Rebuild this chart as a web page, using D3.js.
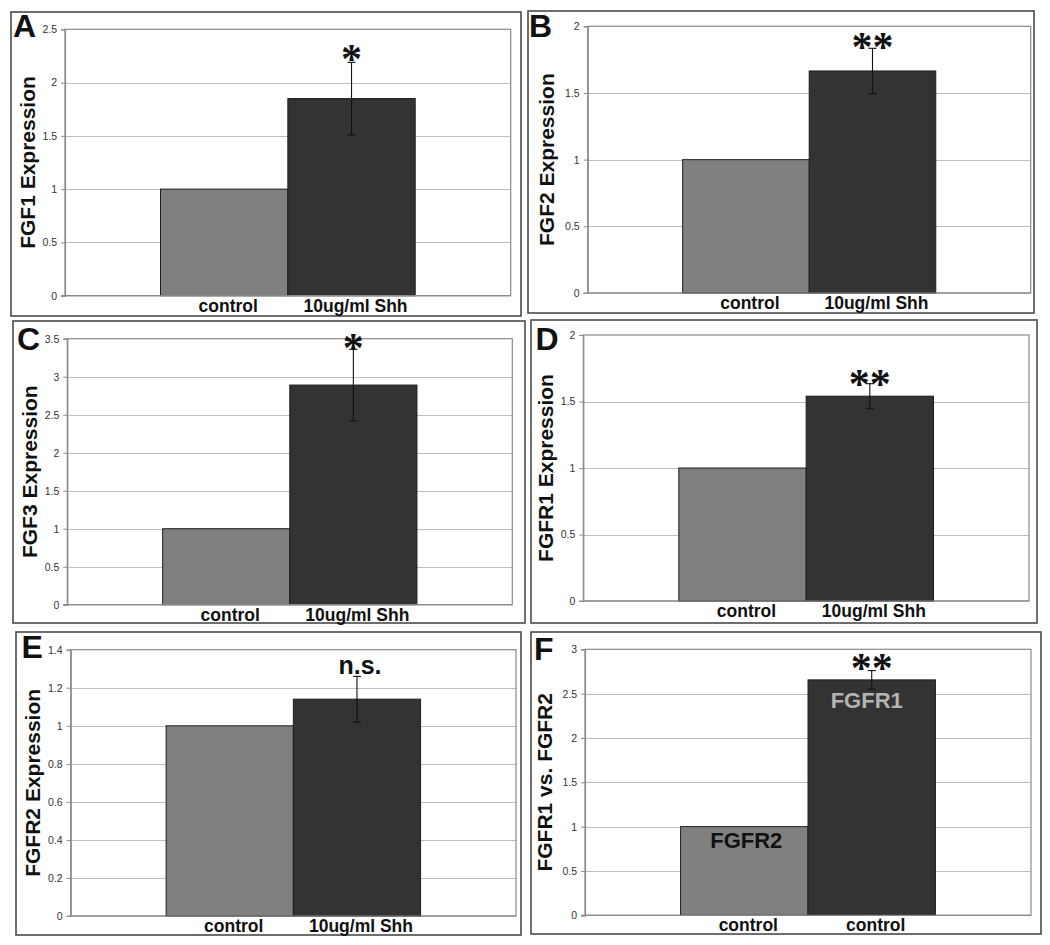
<!DOCTYPE html>
<html>
<head>
<meta charset="utf-8">
<script src="https://cdn.jsdelivr.net/npm/d3@7/dist/d3.min.js"></script>
<style>
  html, body { margin: 0; padding: 0; background: #ffffff; }
  svg { display: block; }
</style>
</head>
<body>
<svg id="chart" width="1050" height="945"></svg>
<script>
// ---------- data ----------
const panelLetters = ["A", "B", "C", "D", "E", "F"];
const yTitles = ["FGF1 Expression", "FGF2 Expression", "FGF3 Expression",
                 "FGFR1 Expression", "FGFR2 Expression", "FGFR1 vs. FGFR2"];
const categoryLabels = [
  ["control", "10ug/ml Shh"],
  ["control", "10ug/ml Shh"],
  ["control", "10ug/ml Shh"],
  ["control", "10ug/ml Shh"],
  ["control", "10ug/ml Shh"],
  ["control", "control"]
];
const controlValues = [1, 1, 1, 1, 1, 1];
const treatedValues = [1.85, 1.665, 2.89, 1.54, 1.14, 2.655];
const treatedErrors = [0.34, 0.17, 0.47, 0.094, 0.12, 0.105];
const yMaxima = [2.5, 2, 3.5, 2, 1.4, 3];
const yTickSteps = [0.5, 0.5, 0.5, 0.5, 0.2, 0.5];
const significance = ["*", "**", "*", "**", "n.s.", "**"];
const barInnerLabels = [null, null, null, null, null, ["FGFR2", "FGFR1"]];

// ---------- layout (pixels) ----------
// frame: [x0, y0, x1, y1]; plot: [x0, y0, x1, y1]
const frames = [
  [11, 12, 521, 316], [528, 11, 1034, 313],
  [13, 321, 525, 623], [531, 320, 1037, 623],
  [16, 632, 521, 935], [531, 632, 1041, 934]
];
const plots = [
  [65, 29.3, 510.7, 295.7], [587.7, 26.3, 1030.7, 293],
  [67.3, 338.7, 512.3, 604.7], [583.3, 335, 1029, 601],
  [70.7, 649.7, 516, 916], [585, 649.3, 1031, 915.3]
];
const letterPos = [[14, 36.7], [530, 36.7], [18, 350], [536.5, 350], [22.5, 658.3], [535, 660]];
const titleOffset = [30.5, 33.4, 30.6, 30.6, 30.7, 33];
const markGap = [9.3, 7, 7.3, 5.4, 0, 8.4];

const svg = d3.select("#chart");
const SANS = "'Liberation Sans', Arial, Helvetica, sans-serif";

panelLetters.forEach((letter, i) => {
  const [fx0, fy0, fx1, fy1] = frames[i];
  const [px0, py0, px1, py1] = plots[i];
  const g = svg.append("g");

  // outer frame
  g.append("rect")
    .attr("x", fx0).attr("y", fy0)
    .attr("width", fx1 - fx0).attr("height", fy1 - fy0)
    .attr("fill", "#fff").attr("stroke", "#4a4a4a").attr("stroke-width", 1.6);

  const y = d3.scaleLinear().domain([0, yMaxima[i]]).range([py1, py0]);
  const x = d3.scaleBand().domain([0, 1]).range([px0, px1])
    .paddingInner(0).paddingOuter(0.75);

  const nTicks = Math.round(yMaxima[i] / yTickSteps[i]);
  const ticks = d3.range(nTicks + 1).map(k => +(k * yTickSteps[i]).toFixed(2));

  // gridlines
  g.append("g").selectAll("line")
    .data(ticks.filter(t => t > 0 && t < yMaxima[i]))
    .join("line")
    .attr("x1", px0).attr("x2", px1)
    .attr("y1", d => Math.round(y(d)) + 0.5).attr("y2", d => Math.round(y(d)) + 0.5)
    .attr("stroke", "#bdbdbd").attr("stroke-width", 1.2);

  // plot border (top/right)
  g.append("rect")
    .attr("x", px0).attr("y", y(yMaxima[i]))
    .attr("width", px1 - px0).attr("height", py1 - y(yMaxima[i]))
    .attr("fill", "none").attr("stroke", "#8a8a8a").attr("stroke-width", 1.2);

  // y axis
  const yAxis = d3.axisLeft(y).tickValues(ticks).tickSize(4).tickPadding(4)
    .tickFormat(d => String(+d.toFixed(1)));
  const ax = g.append("g").attr("transform", `translate(${px0},0)`).call(yAxis);
  ax.select(".domain").attr("stroke", "#8a8a8a").attr("stroke-width", 1.2);
  ax.selectAll(".tick line").attr("stroke", "#8a8a8a");
  ax.selectAll(".tick text")
    .attr("font-family", SANS).attr("font-size", 10.5).attr("fill", "#333");

  // bars
  const vals = [controlValues[i], treatedValues[i]];
  g.append("g").selectAll("rect")
    .data(vals)
    .join("rect")
    .attr("x", (d, k) => x(k)).attr("y", d => y(d))
    .attr("width", x.bandwidth()).attr("height", d => y(0) - y(d))
    .attr("fill", (d, k) => k === 0 ? "#808080" : "#333333")
    .attr("stroke", "#1e1e1e").attr("stroke-width", 1);

  // bottom axis line
  g.append("line")
    .attr("x1", px0 - 4).attr("x2", px1)
    .attr("y1", y(0)).attr("y2", y(0))
    .attr("stroke", "#8a8a8a").attr("stroke-width", 1.2);

  // error bar on treated bar
  const cx = x(1) + x.bandwidth() / 2;
  const top = y(treatedValues[i] + treatedErrors[i]);
  const bot = y(treatedValues[i] - treatedErrors[i]);
  const eb = g.append("g").attr("stroke", "#111").attr("stroke-width", 1.1);
  eb.append("line").attr("x1", cx).attr("x2", cx).attr("y1", top).attr("y2", bot);
  eb.append("line").attr("x1", cx - 4).attr("x2", cx + 4).attr("y1", top).attr("y2", top);
  eb.append("line").attr("x1", cx - 4).attr("x2", cx + 4).attr("y1", bot).attr("y2", bot);

  // significance mark
  if (significance[i] === "n.s.") {
    g.append("text")
      .attr("x", cx + 3).attr("y", top - 2)
      .attr("text-anchor", "middle")
      .attr("font-family", SANS).attr("font-weight", "bold").attr("font-size", 25)
      .attr("fill", "#111")
      .text(significance[i]);
  } else {
    g.append("text")
      .attr("x", cx).attr("y", top - markGap[i] + 20)
      .attr("text-anchor", "middle")
      .attr("font-family", "'Liberation Serif', 'Times New Roman', serif")
      .attr("font-weight", "bold").attr("font-size", 42)
      .attr("fill", "#111")
      .text(significance[i]);
  }

  // category labels
  g.append("g").selectAll("text")
    .data(categoryLabels[i])
    .join("text")
    .attr("x", (d, k) => x(k) + x.bandwidth() / 2 + 4)
    .attr("y", y(0) + 16)
    .attr("text-anchor", "middle")
    .attr("font-family", SANS).attr("font-weight", "bold").attr("font-size", 17.5)
    .attr("fill", "#111")
    .text(d => d);

  // inner bar labels (panel F)
  if (barInnerLabels[i]) {
    g.append("text")
      .attr("x", x(0) + x.bandwidth() / 2 + 2).attr("y", y(controlValues[i]) + 21.6)
      .attr("text-anchor", "middle")
      .attr("font-family", SANS).attr("font-weight", "bold").attr("font-size", 22)
      .attr("fill", "#111")
      .text(barInnerLabels[i][0]);
    g.append("text")
      .attr("x", cx - 5).attr("y", y(treatedValues[i]) + 28)
      .attr("text-anchor", "middle")
      .attr("font-family", SANS).attr("font-weight", "bold").attr("font-size", 22)
      .attr("fill", "#b4b4b4")
      .text(barInnerLabels[i][1]);
  }

  // y title
  const tcy = (py0 + py1) / 2;
  const tx = px0 - titleOffset[i];
  g.append("text")
    .attr("transform", `translate(${tx},${tcy}) rotate(-90)`)
    .attr("text-anchor", "middle")
    .attr("font-family", SANS).attr("font-weight", "bold").attr("font-size", 21)
    .attr("fill", "#111")
    .text(yTitles[i]);

  // panel letter
  g.append("text")
    .attr("x", letterPos[i][0] - 1).attr("y", letterPos[i][1])
    .attr("font-family", SANS).attr("font-weight", "bold").attr("font-size", 32)
    .attr("fill", "#111")
    .text(letter);
});
</script>
</body>
</html>
